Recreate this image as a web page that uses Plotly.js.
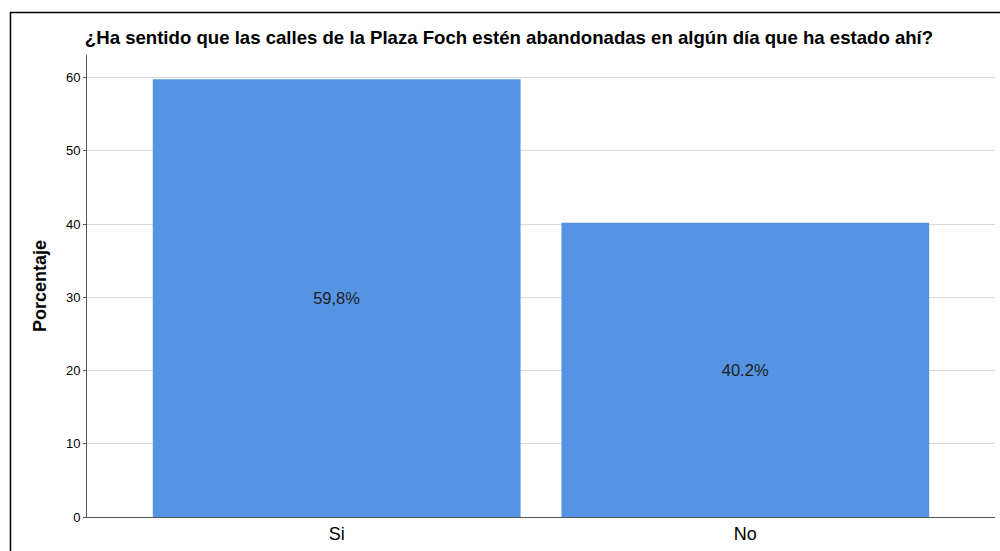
<!DOCTYPE html>
<html><head><meta charset="utf-8">
<script src="https://cdn.plot.ly/plotly-3.0.1.min.js"></script>
<style>html,body{margin:0;padding:0;background:#fff;}#chart{width:1000px;height:551px;}</style>
</head><body><div id="chart"></div>
<script>
var categories = ["Si", "No"];
var percentages = [59.8, 40.2];
var barLabels = ["59,8%", "40.2%"];
var yTicks = [0, 10, 20, 30, 40, 50, 60];

var FONT = "Liberation Sans, Arial, sans-serif";

var trace = {
  type: "bar",
  x: categories,
  y: percentages,
  text: barLabels,
  textposition: "inside",
  insidetextanchor: "middle",
  textangle: 0,
  textfont: {family: FONT, size: 16.5, color: "#1e1e1e"},
  marker: {color: "#5594E3", line: {width: 0}},
  width: 0.9,
  hoverinfo: "none"
};

var layout = {
  width: 1000, height: 551,
  margin: {l: 87, r: 5, t: 55, b: 34},
  paper_bgcolor: "#fff", plot_bgcolor: "#fff",
  showlegend: false,
  title: {
    text: "<b>¿Ha sentido que las calles de la Plaza Foch estén abandonadas en algún día que ha estado ahí?</b>",
    font: {family: FONT, size: 18.6, color: "#000"},
    x: 0.509, xanchor: "center", xref: "container",
    y: 0.932, yanchor: "middle", yref: "container"
  },
  xaxis: {
    type: "category",
    range: [-0.611, 1.611],
    showline: true, linecolor: "#555", linewidth: 1,
    showgrid: false, ticks: "",
    tickfont: {family: FONT, size: 18, color: "#000"},
    fixedrange: true
  },
  yaxis: {
    range: [0, 63.1],
    tickvals: yTicks,
    showline: true, linecolor: "#555", linewidth: 1,
    showgrid: true, gridcolor: "#d9d9d9", gridwidth: 1,
    ticks: "outside", ticklen: 3, tickcolor: "#555",
    zeroline: false,
    tickfont: {family: FONT, size: 13, color: "#000"},
    title: {text: "<b>Porcentaje</b>", font: {family: FONT, size: 18, color: "#000"}, standoff: 14},
    fixedrange: true
  },
  shapes: [{
    type: "rect", xref: "paper", yref: "paper",
    x0: -0.0843, x1: 1.2, y0: -0.3, y1: 1.092,
    line: {color: "#000", width: 1.5}, fillcolor: "rgba(0,0,0,0)", layer: "above"
  }]
};

Plotly.newPlot("chart", [trace], layout, {displayModeBar: false, staticPlot: true});
</script></body></html>
